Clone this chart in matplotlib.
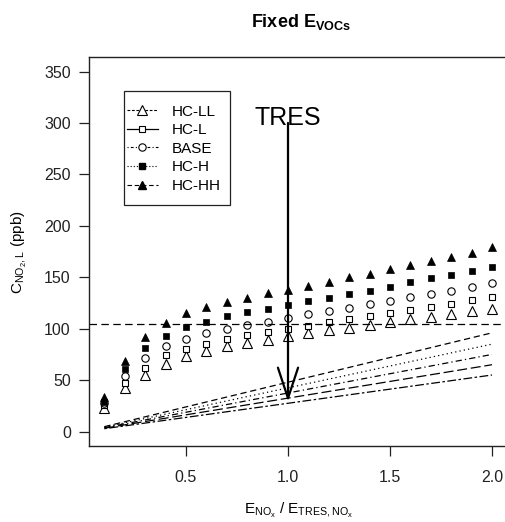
import matplotlib
matplotlib.use('Agg')
import matplotlib.pyplot as plt
from matplotlib.lines import Line2D
from matplotlib.patches import Rectangle

plt.rcParams['font.family'] = ['Liberation Sans', 'DejaVu Sans']
plt.rcParams['mathtext.fontset'] = 'custom'
plt.rcParams['mathtext.rm'] = 'Liberation Sans'
plt.rcParams['mathtext.bf'] = 'Liberation Sans:bold'
plt.rcParams['mathtext.default'] = 'regular'

# E_NOx / E_TRES,NOx
x = [0.1, 0.2, 0.3, 0.4, 0.5, 0.6, 0.7, 0.8, 0.9, 1.0,
     1.1, 1.2, 1.3, 1.4, 1.5, 1.6, 1.7, 1.8, 1.9, 2.0]

hc_ll = [23, 42, 55, 66, 73, 78, 83, 86, 89, 93,
         96, 99, 101, 104, 106.5, 109, 111, 114.5, 117, 119]
hc_l = [26, 47, 62, 74, 80.5, 85, 90, 93.5, 97, 100,
        103, 107, 109, 112.5, 115, 118, 121, 124.5, 127.5, 131]
base = [28, 54, 72, 83, 90, 96, 100, 103.5, 107, 110,
        114, 117, 120.5, 124, 127, 131, 134, 137, 141, 144]
hc_h = [29, 61, 81, 93, 102, 107, 112, 116, 119, 123,
        126.5, 130, 133.5, 137, 141, 145, 149, 152, 156.5, 160]
hc_hh = [34, 69, 92, 106, 115, 121, 126, 130, 135, 138,
         142, 145.5, 150, 153.5, 158, 162, 166, 170, 174, 179]

# straight lines (start at x=0.1, end at x=2.0)
line_x = [0.1, 2.0]
line_ll = [4.8, 96]
line_l = [4.3, 85]
line_base = [3.8, 75]
line_h = [3.3, 65]
line_hh = [2.8, 55]

tres_level = 105
labels = ['HC-LL', 'HC-L', 'BASE', 'HC-H', 'HC-HH']

fig = plt.figure(figsize=(5.05, 5.22), dpi=100)
ax = fig.add_axes([0.176, 0.1456, 0.829, 0.745])

# markers
ax.plot(x, hc_ll, linestyle='none', marker='^', ms=7, mfc='white', mec='black', mew=0.8)
ax.plot(x, hc_l, linestyle='none', marker='s', ms=4.7, mfc='white', mec='black', mew=0.8)
ax.plot(x, base, linestyle='none', marker='o', ms=5.3, mfc='white', mec='black', mew=0.8)
ax.plot(x, hc_h, linestyle='none', marker='s', ms=4.4, mfc='black', mec='black', mew=0.5)
ax.plot(x, hc_hh, linestyle='none', marker='^', ms=6.2, mfc='black', mec='black', mew=0.5)

# lines
lw = 0.9
ax.plot(line_x, line_ll, color='black', lw=lw, dashes=(5, 3))
ax.plot(line_x, line_l, color='black', lw=lw, dashes=(1, 2.5))
ax.plot(line_x, line_base, color='black', lw=lw, dashes=(5, 2.5, 1, 2.5))
ax.plot(line_x, line_h, color='black', lw=lw, dashes=(8, 3))
ax.plot(line_x, line_hh, color='black', lw=lw, dashes=(2, 2, 7, 2))

ax.axhline(tres_level, color='black', lw=lw, dashes=(6, 3.5))

# TRES arrow
ax.text(1.0, 305, 'TRES', ha='center', va='center', fontsize=18)
ax.annotate('', xy=(1.0, 29), xytext=(1.0, 300),
            arrowprops=dict(arrowstyle='->,head_length=1.0,head_width=0.33',
                            mutation_scale=22, lw=1.6, color='black',
                            shrinkA=0, shrinkB=0))

ax.set_xlim(0.024, 2.076)
ax.set_ylim(-14, 364)
ax.set_xticks([0.5, 1.0, 1.5, 2.0])
ax.set_xticklabels(['0.5', '1.0', '1.5', '2.0'])
ax.set_yticks([0, 50, 100, 150, 200, 250, 300, 350])
ax.tick_params(length=7, width=0.9, labelsize=11.5, colors='#222222')
ax.tick_params(axis='x', pad=10)
ax.tick_params(axis='y', pad=6)
for s in ax.spines.values():
    s.set_linewidth(1.0)
    s.set_color('#222222')

ax.set_xlabel(r'$E_{NO_x}$ / $E_{TRES,NO_x}$', fontsize=11, labelpad=12)
ax.set_ylabel(r'$C_{NO_2,L}$ (ppb)', fontsize=11, labelpad=11)
fig.text(0.597, 0.958, r'Fixed $\mathbf{E_{VOCs}}$', ha='center', va='center',
         fontsize=13, fontweight='bold')

handles = [
    Line2D([], [], color='black', lw=0.8, dashes=(2.5, 1.5), marker='^', ms=6.6, mfc='white', mec='black', mew=0.8),
    Line2D([], [], color='black', lw=0.9, marker='s', ms=4.7, mfc='white', mec='black', mew=0.8),
    Line2D([], [], color='black', lw=0.8, dashes=(1, 2, 2.5, 2), marker='o', ms=5.3, mfc='white', mec='black', mew=0.8),
    Line2D([], [], color='black', lw=0.8, dashes=(1, 1.8), marker='s', ms=4.4, mfc='black', mec='black'),
    Line2D([], [], color='black', lw=0.8, dashes=(4, 2.5), marker='^', ms=6.2, mfc='black', mec='black'),
]
leg = ax.legend(handles, labels, loc='upper left', bbox_to_anchor=(0.091, 0.878),
                borderaxespad=0, borderpad=0, fontsize=11, handlelength=2.0,
                labelspacing=0.3, handletextpad=0.9, frameon=False)
ax.add_patch(Rectangle((0.0836, 0.6195), 0.2534, 0.2931, transform=ax.transAxes,
                       fill=False, edgecolor='#222222', lw=0.9, zorder=5))

fig.savefig('out.png', dpi=100)
